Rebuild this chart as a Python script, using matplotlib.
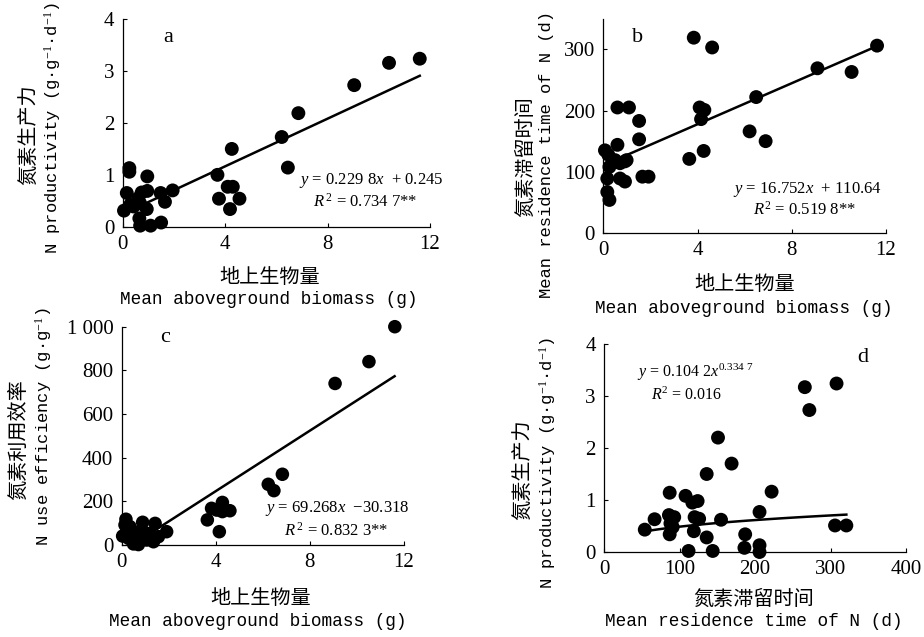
import numpy as np
import matplotlib
matplotlib.use("Agg")
import matplotlib.pyplot as plt

plt.rcParams['mathtext.fontset'] = 'custom'
plt.rcParams['mathtext.rm'] = 'Liberation Serif'
plt.rcParams['mathtext.it'] = 'Liberation Serif:italic'
plt.rcParams['font.family'] = ['Liberation Serif', 'DejaVu Sans']

# ---------------- data ----------------
# panel a: biomass (g) vs N productivity
a_x = [11.6, 10.4, 9.04, 6.86, 6.21, 6.45, 4.26, 3.70, 4.10, 4.30, 3.76, 4.56, 4.19,
       1.95, 1.65, 1.48, 1.50, 1.09, 0.68, 0.65, 0.94, 0.96, 0.96, 0.74, 0.61, 0.26,
       0.26, 0.16, 0.05, 0.29, 0.42, 0.68]
a_y = [3.24, 3.16, 2.73, 2.19, 1.73, 1.14, 1.50, 1.00, 0.77, 0.77, 0.54, 0.54, 0.34,
       0.70, 0.48, 0.65, 0.08, 0.02, 0.02, 0.16, 0.34, 0.97, 0.69, 0.66, 0.55, 1.13,
       1.06, 0.65, 0.31, 0.42, 0.39, 0.45]
a_fit = (0.2298, 0.245)
a_fit_range = (0.45, 11.6)

# panel b: biomass (g) vs mean residence time of N (d)
b_x = [11.62, 10.54, 9.09, 6.49, 6.21, 6.89, 3.84, 4.62, 4.09, 4.29, 4.15, 4.26, 3.65,
       0.60, 1.09, 1.52, 1.52, 0.60, 1.66, 1.92, 0.07, 0.21, 0.50, 0.71, 0.92, 0.26,
       0.17, 0.71, 0.92, 0.17, 0.26, 0.99]
b_y = [306, 263, 269, 222, 166, 150, 319, 303, 205, 201, 186, 134, 121,
       205, 205, 183, 153, 144, 92, 92, 135, 128, 119, 114, 117, 108,
       89, 89, 84, 67, 54, 119]
b_fit = (16.752, 110.64)
b_fit_range = (0.7, 11.6)

# panel c: biomass (g) vs N use efficiency
c_x = [11.61, 10.51, 9.07, 6.83, 6.23, 6.47, 4.28, 3.82, 4.04, 4.28, 4.60, 3.64, 4.15,
       1.91, 1.42, 0.89, 0.18, 0.14, 0.04, 0.21, 0.42, 0.57, 0.71, 1.06, 1.35, 1.56,
       0.85, 0.64, 0.35, 1.20, 0.50, 0.30]
c_y = [1000, 840, 740, 324, 278, 249, 195, 168, 160, 153, 157, 115, 61,
       61, 99, 104, 118, 92, 41, 61, 38, 8, 2, 23, 15, 38,
       69, 53, 84, 53, 5, 30]
c_fit = (69.268, -30.318)
c_fit_range = (0.95, 11.6)

# panel d: residence time (d) vs N productivity
d_x = [308, 266, 272, 151, 169, 136, 222, 87, 108, 117, 124, 206, 86, 93, 67, 54,
       88, 120, 126, 155, 87, 119, 136, 187, 112, 144, 186, 206, 206, 306, 321, 91]
d_y = [3.24, 3.17, 2.73, 2.20, 1.70, 1.50, 1.16, 1.14, 1.08, 0.95, 0.98, 0.77, 0.71,
       0.67, 0.63, 0.43, 0.55, 0.67, 0.64, 0.62, 0.34, 0.40, 0.28, 0.34, 0.02, 0.02,
       0.08, 0.13, 0.00, 0.51, 0.51, 0.48]
d_fit = (0.1042, 0.3347)
d_fit_range = (54, 321)

x_ticks_bio = [0, 4, 8, 12]
x_ticks_mrt = [0, 100, 200, 300, 400]
y_ticks_np = [0, 1, 2, 3, 4]
y_ticks_mrt = [0, 100, 200, 300]
y_ticks_nue = [0, 200, 400, 600, 800, 1000]
y_ticklabels_nue = ['0', '200', '400', '600', '800', '1 000']

# ---------------- figure ----------------
W, H = 924, 637
fig = plt.figure(figsize=(W / 100, H / 100), dpi=100)
fig.patch.set_facecolor('white')

def rect(l, r, t, b):
    return [l / W, 1 - b / H, (r - l) / W, (b - t) / H]

def ftext(x, y, s, **kw):
    kw.setdefault('ha', 'center')
    kw.setdefault('va', 'center')
    fig.text(x / W, 1 - y / H, s, **kw)

CJK = ['Noto Sans CJK SC', 'DejaVu Sans']
MONO = ['Liberation Mono', 'DejaVu Sans Mono']
SERIF = ['Liberation Serif', 'DejaVu Serif']
TICK_FS = 15
CJK_FS = 14.5
MONO_FS = 12.8
YMONO_FS = 12.3
EQ_FS = 12

def style(ax, xlim, ylim, xt, yt, ytl=None):
    ax.set_xlim(*xlim)
    ax.set_ylim(*ylim)
    for s in ['top', 'right']:
        ax.spines[s].set_visible(False)
    for s in ['left', 'bottom']:
        ax.spines[s].set_linewidth(0.9)
    ax.set_xticks(xt)
    ax.set_yticks(yt)
    if ytl is not None:
        ax.set_yticklabels(ytl)
    ax.tick_params(direction='in', length=3, width=0.8, labelsize=TICK_FS, pad=6)
    for lab in ax.get_xticklabels() + ax.get_yticklabels():
        lab.set_family(SERIF)
    ax.set_facecolor('none')

def scatter(ax, x, y, s=100):
    ax.scatter(x, y, s=s, c='black', edgecolors='none', clip_on=False, zorder=3)

def linfit(ax, coef, rng):
    xx = np.linspace(rng[0], rng[1], 50)
    ax.plot(xx, coef[0] * xx + coef[1], color='black', lw=1.8, zorder=2)

# panel a
axa = fig.add_axes(rect(122.7, 430, 19.3, 226.7))
style(axa, (0, 12), (0, 4), x_ticks_bio, y_ticks_np)
scatter(axa, a_x, a_y)
linfit(axa, a_fit, a_fit_range)

# panel b
axb = fig.add_axes(rect(603.3, 886, 18.7, 233))
style(axb, (0, 12), (0, 350), x_ticks_bio, y_ticks_mrt)
scatter(axb, b_x, b_y)
linfit(axb, b_fit, b_fit_range)

# panel c
axc = fig.add_axes(rect(121.7, 404, 326.7, 545))
style(axc, (0, 12), (0, 1000), x_ticks_bio, y_ticks_nue, y_ticklabels_nue)
scatter(axc, c_x, c_y, s=95)
linfit(axc, c_fit, c_fit_range)

# panel d
axd = fig.add_axes(rect(604, 906, 344, 552))
style(axd, (0, 400), (0, 4), x_ticks_mrt, y_ticks_np)
scatter(axd, d_x, d_y)
xx = np.linspace(d_fit_range[0], d_fit_range[1], 100)
axd.plot(xx, d_fit[0] * xx ** d_fit[1], color='black', lw=1.8, zorder=2)

# panel letters
ftext(168, 38, 'a', fontsize=16, family=SERIF)
ftext(638, 38, 'b', fontsize=16, family=SERIF)
ftext(165, 337, 'c', fontsize=16, family=SERIF)
ftext(863, 357, 'd', fontsize=16, family=SERIF)

# equations
ftext(371, 180, r'$y$ = 0.229 8$x$  + 0.245', fontsize=EQ_FS, family=SERIF)
ftext(365, 202, r'$R^{\,2}$ = 0.734 7**', fontsize=EQ_FS, family=SERIF)
ftext(807, 189, r'$y$ = 16.752$x$  + 110.64', fontsize=EQ_FS, family=SERIF)
ftext(804, 210, r'$R^{2}$ = 0.519 8**', fontsize=EQ_FS, family=SERIF)
ftext(337, 508, r'$y$ = 69.268$x$  $-$30.318', fontsize=EQ_FS, family=SERIF)
ftext(336, 531, r'$R^{\,2}$ = 0.832 3**', fontsize=EQ_FS, family=SERIF)
ftext(695, 372, r'$y$ = 0.104 2$x^{\mathrm{0.334\ 7}}$', fontsize=EQ_FS - 0.5, family=SERIF)
ftext(687, 395, r'$R^{2}$ = 0.016', fontsize=EQ_FS - 0.5, family=SERIF)

# x labels
ftext(270, 277, '地上生物量', fontsize=CJK_FS, family=CJK)
ftext(269, 300, 'Mean aboveground biomass (g)', fontsize=MONO_FS, family=MONO)
ftext(745, 285, '地上生物量', fontsize=CJK_FS, family=CJK)
ftext(744, 308, 'Mean aboveground biomass (g)', fontsize=MONO_FS, family=MONO)
ftext(261, 598, '地上生物量', fontsize=CJK_FS, family=CJK)
ftext(258, 622, 'Mean aboveground biomass (g)', fontsize=MONO_FS, family=MONO)
ftext(754, 599, '氮素滞留时间', fontsize=CJK_FS, family=CJK)
ftext(754, 622, 'Mean residence time of N (d)', fontsize=MONO_FS, family=MONO)

# y labels
NP_LABEL = r'N productivity (g·g$^{-1}$·d$^{-1}$)'
NUE_LABEL = r'N use efficiency (g·g$^{-1}$)'
ftext(29, 135, '氮素生产力', fontsize=CJK_FS, family=CJK, rotation=90)
ftext(53, 128, NP_LABEL, fontsize=YMONO_FS, family=MONO, rotation=90)
ftext(526, 157, '氮素滞留时间', fontsize=CJK_FS, family=CJK, rotation=90)
ftext(546, 155, 'Mean residence time of N (d)', fontsize=YMONO_FS, family=MONO, rotation=90)
ftext(19, 440, '氮素利用效率', fontsize=CJK_FS, family=CJK, rotation=90)
ftext(44, 427, NUE_LABEL, fontsize=YMONO_FS, family=MONO, rotation=90)
ftext(523, 470, '氮素生产力', fontsize=CJK_FS, family=CJK, rotation=90)
ftext(548, 463, NP_LABEL, fontsize=YMONO_FS, family=MONO, rotation=90)

fig.savefig('out.png', dpi=100, facecolor='white')
